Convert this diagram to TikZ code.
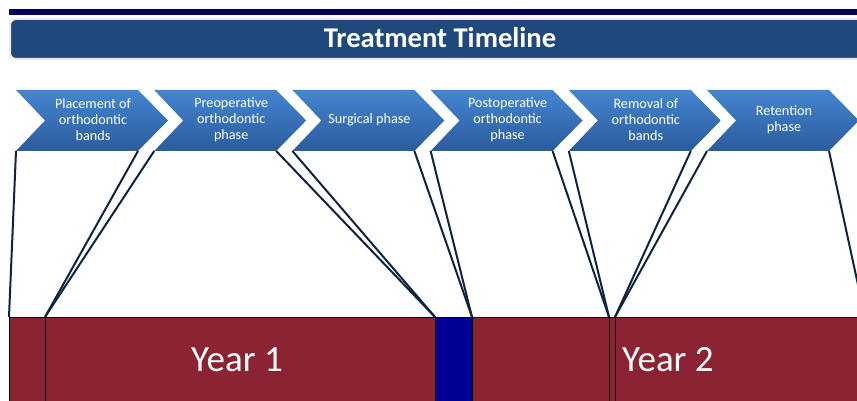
\documentclass[tikz,border=0pt]{standalone}
\usepackage{fontspec}
\setmainfont{Carlito}
\definecolor{navy}{HTML}{00005E}
\definecolor{titleblue}{HTML}{1F497D}
\definecolor{cream}{HTML}{EEE9DA}
\definecolor{chevtop}{HTML}{4485D2}
\definecolor{chevbot}{HTML}{2B5C9B}
\definecolor{linknavy}{HTML}{0E2441}
\definecolor{yearred}{HTML}{8B2332}
\definecolor{surgblue}{HTML}{000096}
\begin{document}
\begin{tikzpicture}[x=1pt, y=-1pt,
    chevron/.style={top color=chevtop, bottom color=chevbot},
    chevtext/.style={text=white, font=\fontsize{14.2}{16}\selectfont, align=center, inner sep=0pt},
    link/.style={draw=linknavy, line width=2pt},
    segment/.style={draw=black, line width=0.6pt, fill=yearred, anchor=north west,
      minimum height=90pt, inner sep=0pt, outer sep=0pt},
    yeartext/.style={text=white, font=\fontsize{37}{40}\selectfont}]
    \clip (0,0) rectangle (857,401);
    \fill[white] (0,0) rectangle (857,401);
    % header
    \fill[navy] (9,9) rectangle (880,15);
    \draw[fill=titleblue, draw=cream, line width=2pt, rounded corners=6pt] (10,19) rectangle (880,59);
    \node[text=white, font=\bfseries\fontsize{28.6}{30}\selectfont] (title) at (440,38) {Treatment Timeline};
    % phases
    \foreach \x/\txt [count=\i] in {16/{Placement of\\orthodontic\\bands},
        154.2/{Preoperative\\orthodontic\\phase},
        292.4/{Surgical phase},
        430.6/{Postoperative\\orthodontic\\phase},
        568.8/{Removal of\\orthodontic\\bands},
        707/{Retention\\phase}} {
        \path[chevron] (\x,90) -- ++(122,0) -- ++(30,30.5) -- ++(-30,30.5)
            -- ++(-122,0) -- ++(29,-30.5) -- cycle;
        \node[chevtext] (ph\i) at (\x+77,120) {\txt};
        \coordinate (ph\i-sw) at (\x,151);
        \coordinate (ph\i-se) at (\x+122,151);
    }
    % years bar
    \node[segment, minimum width=36pt] (s1) at (9,317) {};
    \node[segment, minimum width=390pt] (s2) at (45,317) {};
    \node[segment, minimum width=37pt, fill=surgblue] (s3) at (435,317) {};
    \node[segment, minimum width=137pt] (s4) at (472,317) {};
    \node[segment, minimum width=6pt] (s5) at (609,317) {};
    \node[segment, minimum width=250pt] (s6) at (615,317) {};
    \node[yeartext] (year1) at (237,360) {Year 1};
    \node[yeartext, anchor=west, inner sep=0pt] (year2) at (622,360) {Year 2};
    % links
    \draw[link] (ph1-sw) -- (s1.north west);
    \draw[link] (ph1-se) -- (s2.north west);
    \draw[link] (ph2-sw) -- (s2.north west);
    \draw[link] (ph2-se) -- (s3.north west);
    \draw[link] (ph3-sw) -- (s3.north west);
    \draw[link] (ph3-se) -- (s3.north east);
    \draw[link] (ph4-sw) -- (s3.north east);
    \draw[link] (ph4-se) -- (s5.north west);
    \draw[link] (ph5-sw) -- (s5.north west);
    \draw[link] (ph5-se) -- (s5.north east);
    \draw[link] (ph6-sw) -- (s5.north east);
    \draw[link] (ph6-se) -- (s6.north east);
\end{tikzpicture}
\end{document}
